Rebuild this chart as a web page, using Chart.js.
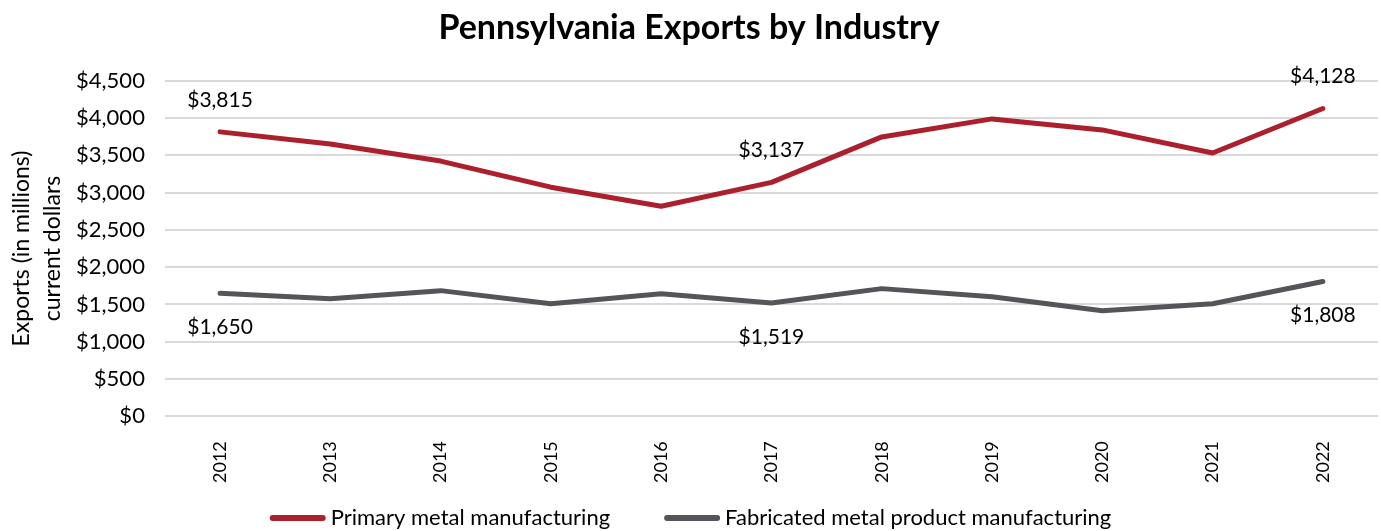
<!DOCTYPE html>
<html>
<head>
<meta charset="utf-8">
<script src="https://cdn.jsdelivr.net/npm/chart.js@4/dist/chart.umd.min.js"></script>
<style>
html,body{margin:0;padding:0;background:#fff;}
#wrap{width:1381px;height:531px;position:relative;}
</style>
</head>
<body>
<div id="wrap"><canvas id="c" width="1381" height="531"></canvas></div>
<script>
const years = ["2012","2013","2014","2015","2016","2017","2018","2019","2020","2021","2022"];
const primaryMetal = [3815, 3652, 3423, 3073, 2817, 3137, 3747, 3989, 3841, 3531, 4128];
const fabricatedMetal = [1650, 1577, 1685, 1509, 1644, 1519, 1712, 1604, 1415, 1509, 1808];
const labeledIndexes = [0, 5, 10];
const yTicks = [0, 500, 1000, 1500, 2000, 2500, 3000, 3500, 4000, 4500];

const FONT = "Lato, 'Open Sans', sans-serif";
const fmt = v => "$" + v.toLocaleString("en-US");

const labelPlugin = {
  id: "pointLabels",
  afterDatasetsDraw(chart) {
    const ctx = chart.ctx;
    ctx.save();
    ctx.font = "21px " + FONT;
    ctx.fillStyle = "#000";
    ctx.textAlign = "center";
    ctx.textBaseline = "middle";
    chart.data.datasets.forEach((ds, di) => {
      const meta = chart.getDatasetMeta(di);
      labeledIndexes.forEach(i => {
        const pt = meta.data[i];
        const dy = di === 0 ? -32 : 34;
        ctx.fillText(fmt(ds.data[i]), pt.x, pt.y + dy);
      });
    });
    ctx.restore();
  }
};

const legendPlugin = {
  id: "customLegend",
  afterDraw(chart) {
    const ctx = chart.ctx;
    ctx.save();
    ctx.font = "22px " + FONT;
    const lineW = 56, gapText = 5, gapItem = 54;
    const items = chart.data.datasets.map(ds => ({
      text: ds.label, color: ds.borderColor, w: ctx.measureText(ds.label).width
    }));
    const total = items.reduce((s, it) => s + lineW + gapText + it.w, 0) + gapItem * (items.length - 1);
    let x = (chart.width - total) / 2;
    const y = 518;
    items.forEach(it => {
      ctx.strokeStyle = it.color;
      ctx.lineWidth = 6;
      ctx.lineCap = "round";
      ctx.beginPath();
      ctx.moveTo(x + 3, y);
      ctx.lineTo(x + lineW - 3, y);
      ctx.stroke();
      ctx.fillStyle = "#000";
      ctx.textBaseline = "middle";
      ctx.textAlign = "left";
      ctx.fillText(it.text, x + lineW + gapText, y);
      x += lineW + gapText + it.w + gapItem;
    });
    ctx.restore();
  }
};

new Chart(document.getElementById("c"), {
  type: "line",
  data: {
    labels: years,
    datasets: [
      {
        label: "Primary metal manufacturing",
        data: primaryMetal,
        borderColor: "#AC1F2D",
        backgroundColor: "#AC1F2D",
        borderWidth: 5,
        pointRadius: 0,
        tension: 0,
        borderCapStyle: "round",
        borderJoinStyle: "round"
      },
      {
        label: "Fabricated metal product manufacturing",
        data: fabricatedMetal,
        borderColor: "#555559",
        backgroundColor: "#555559",
        borderWidth: 5,
        pointRadius: 0,
        tension: 0,
        borderCapStyle: "round",
        borderJoinStyle: "round"
      }
    ]
  },
  options: {
    responsive: false,
    animation: false,
    layout: { padding: { left: 0, right: 3, top: 0, bottom: 31 } },
    plugins: {
      title: {
        display: true,
        text: "Pennsylvania Exports by Industry",
        color: "#000",
        font: { family: FONT, size: 34, weight: "bold" },
        padding: { top: 8, bottom: 32 }
      },
      legend: { display: false },
      tooltip: { enabled: false }
    },
    scales: {
      x: {
        offset: true,
        grid: { display: false },
        border: { display: false },
        ticks: {
          color: "#000",
          font: { family: FONT, size: 18 },
          maxRotation: 90,
          minRotation: 90,
          padding: 17
        }
      },
      y: {
        min: 0,
        max: 4500,
        afterBuildTicks(axis) { axis.ticks = yTicks.map(v => ({ value: v })); },
        grid: { color: "#D9D9D9", lineWidth: 2, drawTicks: false },
        border: { display: false },
        ticks: {
          color: "#000",
          font: { family: FONT, size: 22 },
          padding: 20,
          callback: v => fmt(v)
        },
        title: {
          display: true,
          text: ["Exports (in millions)", "current dollars"],
          color: "#000",
          font: { family: FONT, size: 23, lineHeight: 1.35 },
          padding: { top: 6, bottom: -12 }
        }
      }
    }
  },
  plugins: [labelPlugin, legendPlugin]
});
</script>
</body>
</html>
